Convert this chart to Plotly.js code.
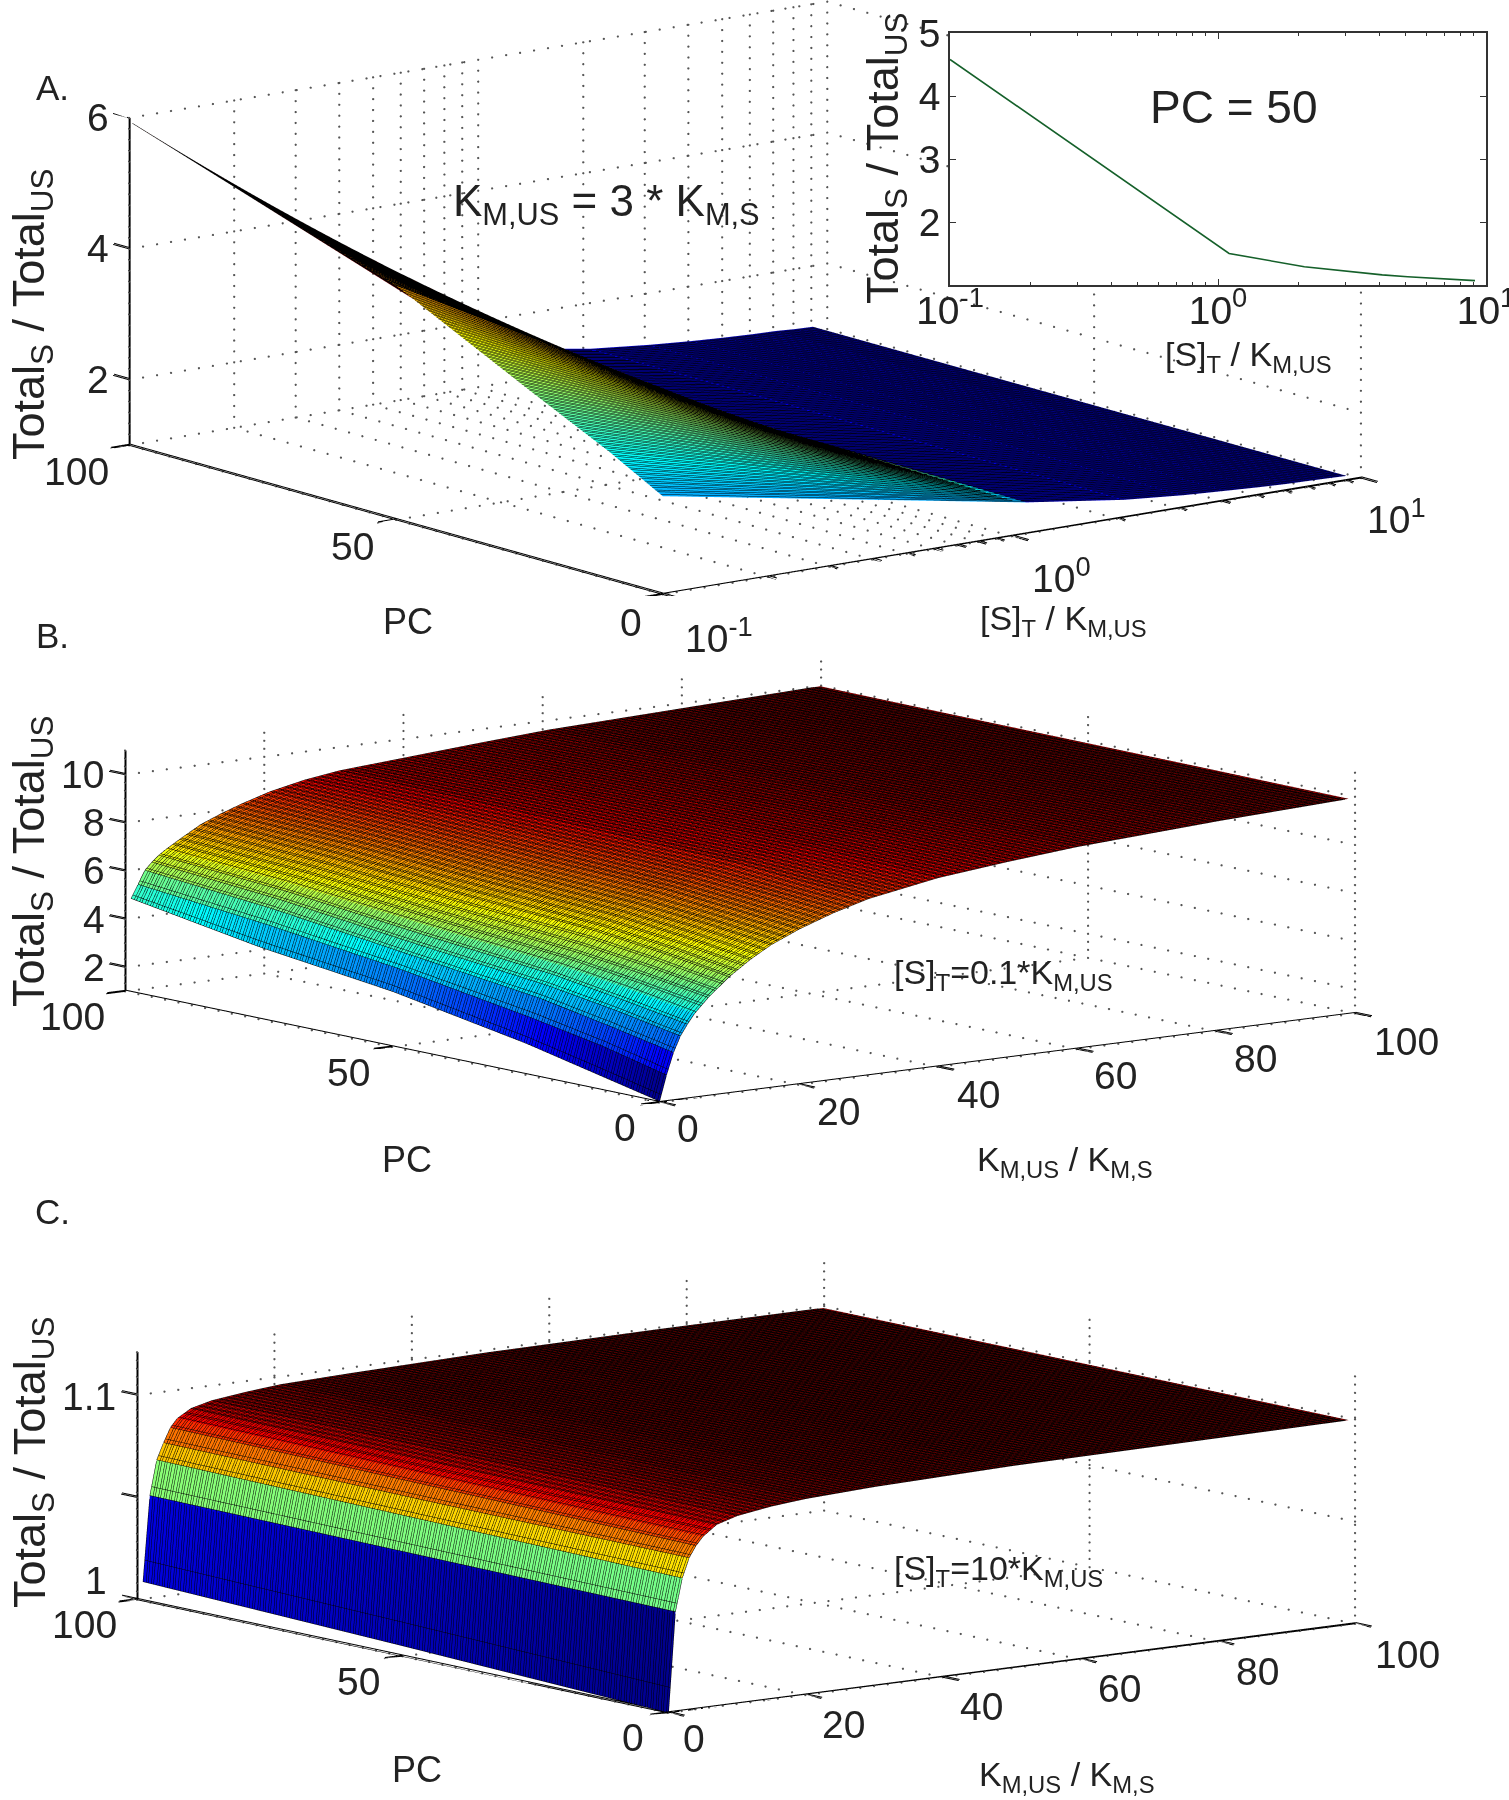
<!DOCTYPE html>
<html><head><meta charset="utf-8">
<script src="https://cdn.plot.ly/plotly-3.0.1.min.js"></script>
<style>
html,body{margin:0;padding:0;background:#fff}
.gl-container{z-index:0!important}
.main-svg{z-index:1}
</style></head><body><div id="chart" style="width:1509px;height:1800px"></div>
<script>
const S_VALUES=[0.1,1.1,2.1,3.1,4.1,5.1,6.1,7.1,8.1,9.1];
const INSET_RATIO=[4.58,1.5,1.29,1.21,1.16,1.13,1.11,1.1,1.08,1.07];
const PC_A=[0,10,25,50,75,100];
const Z_A=[
[2.5,1.48,1.27,1.19,1.15,1.12,1.1,1.09,1.08,1.07],
[2.95,1.49,1.28,1.19,1.15,1.12,1.1,1.09,1.08,1.07],
[3.55,1.5,1.28,1.2,1.15,1.13,1.11,1.09,1.08,1.07],
[4.58,1.51,1.29,1.21,1.16,1.13,1.11,1.1,1.08,1.07],
[5.25,1.53,1.3,1.21,1.16,1.13,1.11,1.1,1.08,1.07],
[5.95,1.55,1.3,1.21,1.16,1.13,1.11,1.1,1.08,1.07]];
const K_B=[0.1,1.1,2.1,3.1,4.1,5.1,7.1,10.1,13.1,16.1,20.1,25.1,30.1,40.1,50.1,60.1,80.1,99.1];
const PC_B=[0,12,25,50,75,99];
const Z_B=[
[1.05,2.1,3.0,3.65,4.1,4.5,5.1,5.85,6.45,6.95,7.45,7.95,8.35,8.85,9.15,9.4,9.72,9.95],
[1.65,2.75,3.55,4.15,4.55,4.95,5.5,6.25,6.8,7.25,7.7,8.15,8.5,8.95,9.22,9.45,9.75,9.96],
[2.3,3.3,4.1,4.6,5.0,5.35,5.85,6.6,7.1,7.5,7.95,8.35,8.7,9.05,9.3,9.5,9.77,9.98],
[3.3,4.2,4.8,5.2,5.55,5.85,6.3,6.95,7.4,7.75,8.15,8.55,8.85,9.15,9.38,9.57,9.8,10.0],
[4.0,4.9,5.5,5.85,6.15,6.4,6.8,7.35,7.75,8.05,8.4,8.75,9.0,9.25,9.45,9.63,9.85,10.02],
[4.9,5.45,6.0,6.3,6.55,6.75,7.1,7.6,7.95,8.25,8.6,8.9,9.1,9.3,9.5,9.68,9.87,10.05]];
const K_C=[0.1,1.1,2.1,3.1,4.1,5.1,7.1,10.1,15.1,20.1,30.1,50.1,75.1,99.1];
const PC_C=[0,50,99];
const Z_C=[
[1.000,1.049,1.065,1.0745,1.080,1.084,1.089,1.092,1.0945,1.096,1.0975,1.099,1.0995,1.100],
[1.005,1.050,1.0665,1.075,1.0815,1.0855,1.090,1.093,1.095,1.0965,1.098,1.0992,1.0998,1.100],
[1.0093,1.051,1.068,1.076,1.083,1.087,1.091,1.0935,1.0955,1.097,1.098,1.0995,1.100,1.100]];
const JET=[[0,'rgb(0,0,143)'],[0.125,'rgb(0,0,255)'],[0.375,'rgb(0,255,255)'],[0.625,'rgb(255,255,0)'],[0.875,'rgb(255,0,0)'],[1,'rgb(128,0,0)']];
const FONT='"Liberation Sans",Arial,sans-serif';
const INK='#222';
const LOG_MAJOR=[0.1,1,10];
const LOG_ALL=[0.1,0.2,0.3,0.4,0.5,0.6,0.7,0.8,0.9,1,2,3,4,5,6,7,8,9,10];
const LOG_LABELS=['10<sup>-1</sup>','10<sup>0</sup>','10<sup>1</sup>'];
const PC_TICKS=[0,50,100];
const K_TICKS=[0,20,40,60,80,100];
const ZT_A=[2,4,6],ZT_B=[2,4,6,8,10],ZT_C=[1,1.05,1.1];
const TITLE_Z='Total<sub>S</sub> / Total<sub>US</sub>';
const DIST=6;
const PAD=1.08;
const OFF={show:false,highlight:false};
const LINE=(start,size,end)=>({show:true,start,end,size,color:'#000',width:1,highlight:false});

function surf(scene,x,y,z,c,cmin,cmax,xc){
  return {type:'surface',scene,x,y,z,surfacecolor:c,cmin,cmax,colorscale:JET,showscale:false,hoverinfo:'skip',
      lighting:{ambient:1,diffuse:0,specular:0,roughness:1,fresnel:0},
      contours:{x:xc,y:LINE(0,1,100),z:OFF}};
}
function bands(xs,ys,rows,scene,flat,cmin,cmax,xc){
  const out=[];
  for(let i=0;i<flat;i++){
    const z=rows.map(r=>[r[i],r[i+1]]);
    out.push(surf(scene,[xs[i],xs[i+1]],ys,z,rows.map(r=>[r[i],r[i]]),cmin,cmax,xc));
  }
  if(flat<xs.length-1){
    const z=rows.map(r=>r.slice(flat));
    out.push(surf(scene,xs.slice(flat),ys,z,z,cmin,cmax,xc));
  }
  return out;
}
function thick(xs,ys,rows,scene,cmin,cmax,xc,yStart){
  return {type:'surface',scene,x:xs,y:ys,z:rows,cmin,cmax,colorscale:JET,showscale:false,hoverinfo:'skip',hidesurface:true,
    contours:{x:xc,y:LINE(yStart,1,100),z:OFF}};
}
function grid(xT,yT,zT,xR,yR,zR,scene,logX){
  const X=[],Y=[],Z=[];
  const fx=logX?(a,b,t)=>Math.pow(10,Math.log10(a)+(Math.log10(b)-Math.log10(a))*t):(a,b,t)=>a+(b-a)*t;
  const seg=(a,b,n)=>{for(let i=0;i<=n;i++){const t=i/n;X.push(fx(a[0],b[0],t));Y.push(a[1]+(b[1]-a[1])*t);Z.push(a[2]+(b[2]-a[2])*t);}};
  xT.forEach(x=>{seg([x,yR[1],zR[0]],[x,yR[1],zR[1]],30);seg([x,yR[0],zR[0]],[x,yR[1],zR[0]],40);});
  yT.forEach(y=>{seg([xR[1],y,zR[0]],[xR[1],y,zR[1]],30);seg([xR[0],y,zR[0]],[xR[1],y,zR[0]],50);});
  zT.forEach(z=>{seg([xR[0],yR[1],z],[xR[1],yR[1],z],50);seg([xR[1],yR[0],z],[xR[1],yR[1],z],40);});
  return {type:'scatter3d',scene,mode:'markers',x:X,y:Y,z:Z,marker:{color:'#555',size:1.3,line:{width:0}},hoverinfo:'skip',showlegend:false};
}
function frame(xT,yT,zT,xR,yR,zR,scene,tickX,shiftX,dz){
  const X=[],Y=[],Z=[];
  const s=(a,b)=>{X.push(shiftX(a[0]),shiftX(b[0]),null);Y.push(a[1],b[1],null);Z.push(a[2]+dz,b[2]+dz,null);};
  s([xR[0],yR[1],zR[0]],[xR[0],yR[1],zR[1]]);
  s([xR[0],yR[0],zR[0]],[xR[0],yR[1],zR[0]]);
  s([xR[0],yR[0],zR[0]],[xR[1],yR[0],zR[0]]);
  zT.forEach(z=>s([xR[0],yR[1],z],[xR[0],yR[1]+3,z]));
  yT.forEach(y=>s([xR[0],y,zR[0]],[tickX(xR[0]),y,zR[0]]));
  xT.forEach(x=>s([x,yR[0],zR[0]],[x,yR[0]-(LOG_MAJOR.includes(x)||!(xR[1]===10)?3:1.5),zR[0]]));
  return {type:'scatter3d',scene,mode:'lines',x:X,y:Y,z:Z,line:{color:'#000',width:2},hoverinfo:'skip',showlegend:false};
}
const PCK=LINE(0.1,1,99.2), PCK2=LINE(0.35,1,99.2);
const same=x=>x;
const data=[
 grid(LOG_ALL,PC_TICKS,ZT_A,[0.1,10],[0,100],[1,6],'scene',true),
 frame(LOG_ALL,PC_TICKS,ZT_A,[0.1,10],[0,100],[1,6],'scene',x=>x*Math.pow(10,-0.054),same,0),
 frame(LOG_ALL,PC_TICKS,ZT_A,[0.1,10],[0,100],[1,6],'scene',x=>x*Math.pow(10,-0.054),x=>x*1.0066,0.015),
 ...bands(S_VALUES,PC_A,Z_A,'scene',9,1.07,5.95,OFF),
 thick(S_VALUES,PC_A,Z_A,'scene',1.07,5.95,OFF,0.4),
 grid(K_TICKS,PC_TICKS,ZT_B,[0,100],[0,100],[1,11],'scene2'),
 frame(K_TICKS,PC_TICKS,ZT_B,[0,100],[0,100],[1,11],'scene2',x=>x-2.7,same,0),
 frame(K_TICKS,PC_TICKS,ZT_B,[0,100],[0,100],[1,11],'scene2',x=>x-2.7,x=>x+0.14,0.04),
 ...bands(K_B,PC_B,Z_B,'scene2',5,1.05,10.05,PCK),
 thick(K_B,PC_B,Z_B,'scene2',1.05,10.05,PCK2,0.4),
 grid(K_TICKS,PC_TICKS,[1.05,1.1],[0,100],[0,100],[1,1.121],'scene3'),
 frame(K_TICKS,PC_TICKS,ZT_C,[0,100],[0,100],[1,1.121],'scene3',x=>x-2.7,same,0),
 frame(K_TICKS,PC_TICKS,ZT_C,[0,100],[0,100],[1,1.121],'scene3',x=>x-2.7,x=>x+0.14,0.0005),
 ...bands(K_C,PC_C,Z_C,'scene3',5,1,1.1,PCK),
 thick(K_C,PC_C,Z_C,'scene3',1,1.1,PCK2,0.4),
 {type:'scatter',x:S_VALUES,y:INSET_RATIO,xaxis:'x',yaxis:'y',mode:'lines',line:{color:'#15602a',width:1.6},hoverinfo:'skip',showlegend:false}
];
const ax=(o)=>Object.assign({title:{text:''},showgrid:false,zeroline:false,showbackground:false,showspikes:false,showline:false,ticks:'',showticklabels:false,autorange:false},o);
const cam=(e)=>({eye:{x:e[0]*DIST,y:e[1]*DIST,z:e[2]*DIST},up:{x:0,y:0,z:1},center:{x:0,y:0,z:0},projection:{type:'orthographic'}});
const H=1800,W=1509;
const dom=(cx,cy,hw,hh)=>({x:[(cx-hw)/W,(cx+hw)/W],y:[1-(cy+hh)/H,1-(cy-hh)/H]});
const F=(size)=>({family:FONT,size,color:INK});
const sa=(x,y,z,text,dx,dy)=>({x,y,z,text,showarrow:false,font:F(39),xshift:dx,yshift:-dy,xanchor:'center',yanchor:'middle'});
const paper=(x,y,text,size,extra)=>Object.assign({xref:'paper',yref:'paper',x:x/W,y:1-y/H,text,showarrow:false,font:F(size),xanchor:'center',yanchor:'middle'},extra||{});
const B_K_SHIFT=[[29,26],[40,27],[41,28],[39,26],[40,27],[52,28]];
const C_K_SHIFT=[[26,26],[38,29],[39,29],[39,29],[40,30],[52,31]];
const layout={width:W,height:H,margin:{l:0,r:0,t:0,b:0},paper_bgcolor:'rgba(0,0,0,0)',plot_bgcolor:'#fff',showlegend:false,
 scene:{domain:dom(745,298,660,298),camera:cam([-0.5966,-0.7726,0.2157]),aspectmode:'manual',aspectratio:{x:2.96*PAD,y:2.93*PAD,z:1.125},bgcolor:'rgba(0,0,0,0)',
  xaxis:ax({type:'log',range:[-1.08,1.08]}),yaxis:ax({range:[-4,104]}),zaxis:ax({range:[1,6]}),
  annotations:[...ZT_A.map(z=>sa(-1,100,z,String(z),-31,0)),
   sa(-1,100,1,'100',-53,26),sa(-1,50,1,'50',-43,27),sa(-1,0,1,'0',-32,28),
   ...LOG_MAJOR.map((s,i)=>sa(Math.log10(s),0,1,LOG_LABELS[i],[56,50,36][i],[41,39,38][i]))]},
 scene2:{domain:dom(740,882,660,298),camera:cam([-0.6087,-0.7765,0.1633]),aspectmode:'manual',aspectratio:{x:2.968*PAD,y:2.904*PAD,z:0.819},bgcolor:'rgba(0,0,0,0)',
  xaxis:ax({range:[-4,104]}),yaxis:ax({range:[-4,104]}),zaxis:ax({range:[1,11]}),
  annotations:[...ZT_B.map(z=>sa(0,100,z,String(z),z===10?-43:-31,0)),
   sa(0,100,1,'100',-53,25),sa(0,50,1,'50',-43,26),sa(0,0,1,'0',-34,25),
   ...K_TICKS.map((k,i)=>sa(k,0,1,String(k),B_K_SHIFT[i][0],B_K_SHIFT[i][1]))]},
 scene3:{domain:dom(746,1488,660,298),camera:cam([-0.6065,-0.7777,0.1663]),aspectmode:'manual',aspectratio:{x:2.924*PAD,y:2.897*PAD,z:0.842},bgcolor:'rgba(0,0,0,0)',
  xaxis:ax({range:[-4,104]}),yaxis:ax({range:[-4,104]}),zaxis:ax({range:[1,1.121]}),
  annotations:[sa(0,100,1,'1',-41,-19),sa(0,100,1.1,'1.1',-48,1),
   sa(0,100,1,'100',-52,25),sa(0,50,1,'50',-44,25),sa(0,0,1,'0',-35,25),
   ...K_TICKS.map((k,i)=>sa(k,0,1,String(k),C_K_SHIFT[i][0],C_K_SHIFT[i][1]))]},
 xaxis:{type:'log',domain:[950/W,1486/W],range:[-1,1],anchor:'y',tickvals:LOG_MAJOR,ticktext:LOG_LABELS,ticks:'inside',ticklen:6,tickcolor:'#333',mirror:'allticks',showline:true,linecolor:'#333',linewidth:1.5,showgrid:false,zeroline:false,tickfont:F(39),ticklabeloverflow:'allow',ticklabelstandoff:-10,title:{text:''},
   minor:{tickvals:LOG_ALL,ticks:'inside',ticklen:3,tickcolor:'#333',showgrid:false}},
 yaxis:{domain:[1-285/H,1-33/H],range:[1,5],anchor:'x',tickvals:[2,3,4,5],ticks:'inside',ticklen:6,tickcolor:'#333',mirror:'allticks',showline:true,linecolor:'#333',linewidth:1.5,showgrid:false,zeroline:false,tickfont:F(39),title:{text:''}},
 annotations:[
  paper(52,88,'A.',35),paper(52,635,'B.',35),paper(52,1211,'C.',35),
  paper(32,314,TITLE_Z,45,{textangle:-90}),paper(32,861,TITLE_Z,45,{textangle:-90}),paper(32,1462,TITLE_Z,45,{textangle:-90}),
  paper(606,204,'K<sub>M,US</sub> = 3 * K<sub>M,S</sub>',44),
  paper(1234,107,'PC = 50',46),paper(886,158,TITLE_Z,45,{textangle:-90}),paper(1248,356,'[S]<sub>T</sub> / K<sub>M,US</sub>',34),
  paper(408,621,'PC',36),paper(1063,620,'[S]<sub>T</sub> / K<sub>M,US</sub>',34),
  paper(407,1159,'PC',36),paper(1065,1161,'K<sub>M,US</sub> / K<sub>M,S</sub>',34),
  paper(417,1769,'PC',36),paper(1067,1776,'K<sub>M,US</sub> / K<sub>M,S</sub>',34),
  paper(1004,975,'[S]<sub>T</sub>=0.1*K<sub>M,US</sub>',34),paper(998,1570,'[S]<sub>T</sub>=10*K<sub>M,US</sub>',34)
 ]};
Plotly.newPlot('chart',data,layout,{displayModeBar:false});
</script></body></html>
